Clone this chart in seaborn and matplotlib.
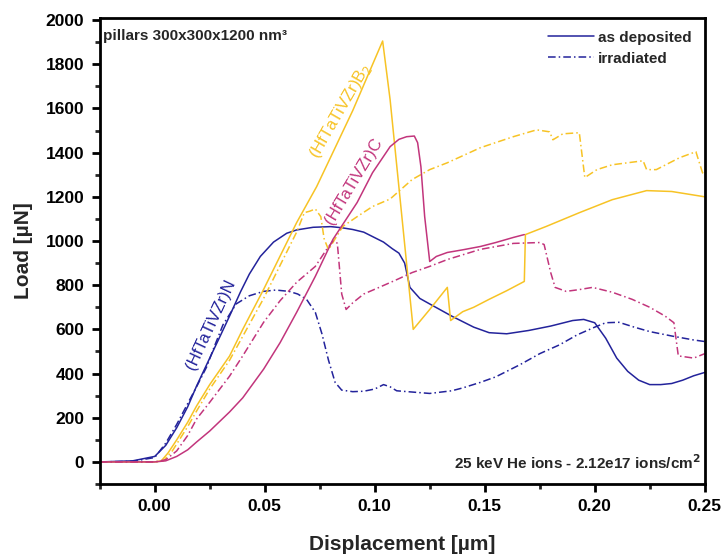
import numpy as np
import pandas as pd
import matplotlib
matplotlib.use("Agg")
import matplotlib.pyplot as plt
from matplotlib.lines import Line2D
from matplotlib.ticker import MultipleLocator, FormatStrFormatter
import seaborn as sns

# ---------------- data ----------------
N_dep_x = [-0.025, -0.01, 0.0, 0.005, 0.01, 0.015, 0.019, 0.025, 0.03, 0.034, 0.039, 0.043, 0.048,
           0.054, 0.06, 0.0645, 0.072, 0.08, 0.085, 0.09, 0.095, 0.1, 0.104, 0.108, 0.111, 0.1136,
           0.116, 0.1205, 0.125, 0.135, 0.145, 0.152, 0.16, 0.17, 0.18, 0.19, 0.195, 0.2, 0.205,
           0.21, 0.215, 0.22, 0.225, 0.23, 0.235, 0.24, 0.245, 0.25]
N_dep_y = [0, 5, 25, 75, 155, 250, 343, 470, 575, 660, 770, 850, 930,
           995, 1035, 1050, 1062, 1065, 1060, 1052, 1040, 1015, 995, 965, 945, 900,
           790, 740, 715, 660, 610, 585, 580, 595, 615, 640, 645, 630, 560,
           470, 410, 370, 350, 350, 355, 370, 390, 405]

N_irr_x = [-0.025, -0.01, 0.0, 0.005, 0.01, 0.0145, 0.019, 0.0236, 0.027, 0.031, 0.037, 0.043,
           0.0495, 0.055, 0.061, 0.065, 0.069, 0.073, 0.076, 0.079, 0.082, 0.085, 0.09, 0.095,
           0.1, 0.104, 0.107, 0.11, 0.115, 0.125, 0.135, 0.14, 0.148, 0.155, 0.166, 0.175, 0.184,
           0.192, 0.2, 0.205, 0.211, 0.218, 0.225, 0.235, 0.245, 0.25]
N_irr_y = [0, 3, 20, 85, 170, 255, 340, 430, 520, 620, 715, 752,
           772, 778, 772, 760, 736, 677, 580, 460, 360, 325, 318, 320,
           330, 350, 340, 322, 318, 310, 322, 335, 360, 385, 440, 490, 530,
           575, 610, 630, 632, 610, 590, 570, 552, 545]

B2_dep_x = [-0.025, 0.0, 0.003, 0.006, 0.01, 0.015, 0.019, 0.025, 0.034, 0.04, 0.0495, 0.0645,
            0.0736, 0.08, 0.09, 0.1036, 0.107, 0.1175, 0.125, 0.133, 0.1345, 0.14, 0.145, 0.152,
            0.16, 0.168, 0.1685, 0.178, 0.193, 0.208, 0.2236, 0.235, 0.25]
B2_dep_y = [0, 0, 5, 40, 100, 180, 253, 350, 479, 600, 781, 1083,
            1246, 1380, 1590, 1905, 1639, 600, 690, 790, 640, 680, 700, 736,
            775, 817, 1029, 1066, 1128, 1187, 1228, 1224, 1200]

B2_irr_x = [-0.025, 0.0, 0.004, 0.008, 0.015, 0.019, 0.025, 0.034, 0.0495, 0.0645, 0.068,
            0.0705, 0.073, 0.0755, 0.077, 0.079, 0.082, 0.0855, 0.092, 0.099, 0.107, 0.117,
            0.125, 0.133, 0.148, 0.163, 0.1736, 0.1795, 0.181, 0.1855, 0.193, 0.1955, 0.201,
            0.208, 0.222, 0.2236, 0.228, 0.2386, 0.246, 0.249, 0.25]
B2_irr_y = [0, 0, 5, 50, 160, 230, 330, 460, 740, 1040, 1128,
            1135, 1145, 1110, 1010, 960, 1010, 1066, 1110, 1156, 1190, 1278,
            1323, 1354, 1422, 1472, 1503, 1494, 1458, 1485, 1490, 1287, 1323,
            1345, 1363, 1323, 1323, 1377, 1404, 1309, 1300]

C_dep_x = [-0.025, 0.0, 0.005, 0.01, 0.015, 0.019, 0.025, 0.034, 0.04, 0.0495, 0.057, 0.0645,
           0.073, 0.081, 0.092, 0.099, 0.107, 0.111, 0.1145, 0.118, 0.1195, 0.121, 0.1227,
           0.125, 0.128, 0.133, 0.14, 0.148, 0.155, 0.163, 0.168]
C_dep_y = [0, 0, 5, 25, 55, 90, 140, 226, 290, 420, 540, 677,
           840, 1007, 1174, 1309, 1427, 1460, 1472, 1475, 1445, 1336, 1111,
           907, 930, 948, 960, 975, 993, 1016, 1029]

C_irr_x = [-0.025, 0.0, 0.005, 0.01, 0.015, 0.019, 0.025, 0.034, 0.04, 0.0495, 0.057, 0.0645,
           0.073, 0.078, 0.081, 0.083, 0.085, 0.087, 0.09, 0.095, 0.102, 0.11, 0.117, 0.125,
           0.133, 0.148, 0.163, 0.175, 0.177, 0.18, 0.182, 0.187, 0.193, 0.199, 0.208, 0.217,
           0.225, 0.232, 0.236, 0.238, 0.245, 0.25]
C_irr_y = [0, 0, 10, 50, 120, 194, 270, 388, 480, 632, 730, 813,
           885, 960, 1000, 990, 760, 690, 720, 760, 790, 825, 857, 885,
           916, 962, 989, 993, 984, 857, 790, 772, 780, 790, 768, 736,
           700, 660, 630, 480, 470, 490]

materials = ["N", "B2", "C"]
conditions = ["as deposited", "irradiated"]
series = {
    ("N", "as deposited"): (N_dep_x, N_dep_y),
    ("N", "irradiated"): (N_irr_x, N_irr_y),
    ("B2", "as deposited"): (B2_dep_x, B2_dep_y),
    ("B2", "irradiated"): (B2_irr_x, B2_irr_y),
    ("C", "as deposited"): (C_dep_x, C_dep_y),
    ("C", "irradiated"): (C_irr_x, C_irr_y),
}

frames = []
for (mat, cond), (xs, ys) in series.items():
    frames.append(pd.DataFrame({"x": xs, "y": ys, "material": mat, "condition": cond,
                                "run": f"{mat}-{cond}"}))
df = pd.concat(frames, ignore_index=True)

palette = {"N": "#23239b", "B2": "#f7c325", "C": "#c2357c"}
dashes = {"as deposited": "", "irradiated": (5, 2, 1, 2)}

# ---------------- plot ----------------
sns.set_theme(style="ticks")
plt.rcParams["font.family"] = ["Liberation Sans", "DejaVu Sans"]

fig = plt.figure(figsize=(7.28, 5.57), dpi=100)
ax = fig.add_axes([0.137, 0.131, 0.831, 0.837])

sns.lineplot(data=df, x="x", y="y", hue="material", style="condition", units="run",
             estimator=None, sort=False, palette=palette, dashes=dashes,
             linewidth=1.1, legend=False, ax=ax)

ax.set_xlim(-0.025, 0.25)
ax.set_ylim(-100, 2010)
ax.xaxis.set_major_locator(MultipleLocator(0.05))
ax.xaxis.set_minor_locator(MultipleLocator(0.025))
ax.xaxis.set_major_formatter(FormatStrFormatter("%.2f"))
ax.yaxis.set_major_locator(MultipleLocator(200))
ax.yaxis.set_minor_locator(MultipleLocator(100))

for sp in ax.spines.values():
    sp.set_visible(True)
    sp.set_linewidth(2.0)
    sp.set_color("black")
ax.tick_params(which="major", direction="out", length=6, width=2.0, labelsize=12.5,
               colors="black", pad=5)
ax.tick_params(which="minor", direction="out", length=3.5, width=2.0)
ax.tick_params(top=False, right=False, which="both")
for lab in ax.get_xticklabels() + ax.get_yticklabels():
    lab.set_fontweight("bold")

ax.set_xlabel("Displacement [µm]", fontsize=15, fontweight="bold", labelpad=15)
ax.set_ylabel("Load [µN]", fontsize=15, fontweight="bold", labelpad=9)

# annotations
ax.text(0.006, 0.975, "pillars 300x300x1200 nm³", transform=ax.transAxes,
        fontsize=11, fontweight="bold", va="top", ha="left")
ax.text(0.994, 0.025, "25 keV He ions - 2.12e17 ions/cm$^\\mathbf{2}$", transform=ax.transAxes,
        fontsize=11, fontweight="bold", va="bottom", ha="right")

ax.text(0.0255, 620, "(HfTaTiVZr)N", color=palette["N"], fontsize=12,
        rotation=65, ha="center", va="center", rotation_mode="anchor")
ax.text(0.0845, 1590, "(HfTaTiVZr)B$_2$", color=palette["B2"], fontsize=12,
        rotation=60, ha="center", va="center", rotation_mode="anchor")
ax.text(0.0905, 1270, "(HfTaTiVZr)C", color=palette["C"], fontsize=12,
        rotation=59, ha="center", va="center", rotation_mode="anchor")

handles = [Line2D([], [], color=palette["N"], lw=1.1, linestyle="-"),
           Line2D([], [], color=palette["N"], lw=1.1, dashes=(5, 2, 1, 2))]
leg = ax.legend(handles, conditions, loc="upper right", frameon=False,
                prop={"weight": "bold", "size": 11}, handlelength=3.0,
                handletextpad=0.3, labelspacing=0.45, borderaxespad=0.45)

fig.savefig("out.png", dpi=100)
